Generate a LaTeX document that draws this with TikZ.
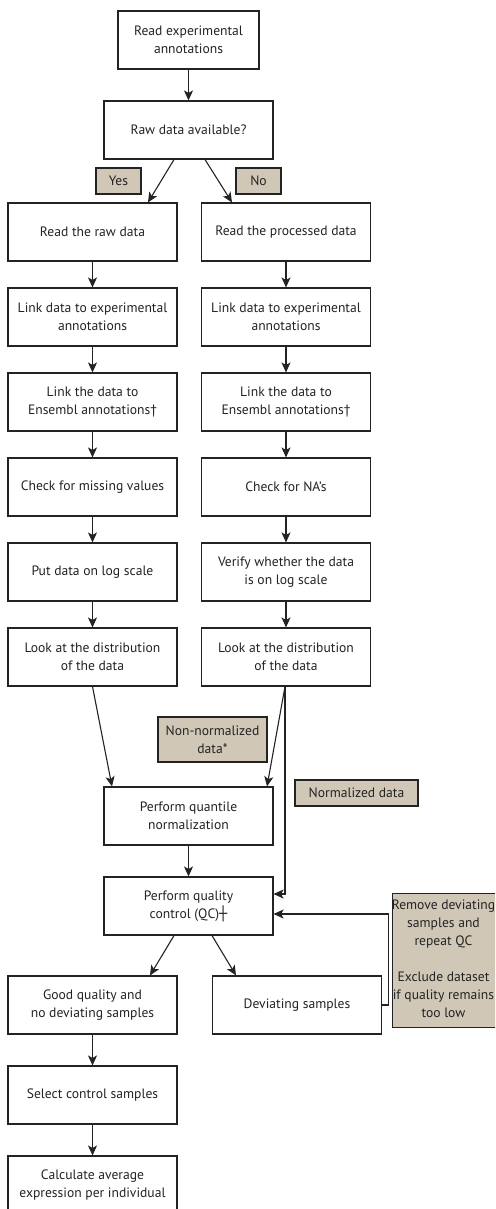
\documentclass[tikz,border=0pt]{standalone}
\usepackage{fontspec}
\setmainfont{PT Sans}
\newfontfamily\symfont{DejaVu Sans}
\usetikzlibrary{arrows.meta,calc}
\definecolor{tan}{RGB}{208,199,183}
\definecolor{ink}{RGB}{35,35,35}
\tikzset{
  every node/.style={font=\fontsize{13.6}{18}\selectfont, text=ink},
  stepbox/.style={draw=ink, line width=1.1pt, fill=white, minimum width=169pt, minimum height=58pt, align=center, inner sep=1pt},
  tagbox/.style={draw=ink, line width=1.1pt, fill=tan, align=center, inner sep=1pt},
  conn/.style={draw=ink, line width=1.1pt, -{Stealth[length=10pt,width=9pt,inset=2.5pt]}},
}
\begin{document}
\begin{tikzpicture}[x=1pt,y=-1pt]
\useasboundingbox (0,0) rectangle (495,1209);
\clip (0,0) rectangle (495,1209);
% center column
\node[stepbox, minimum width=141pt] (b1) at (188.5,40) {Read experimental\\annotations};
\node[stepbox] (b2) at (188.5,130) {Raw data available?};
% left column
\node[stepbox] (l1) at (92.5,232) {Read the raw data};
\node[stepbox] (l2) at (92.5,317) {Link data to experimental\\annotations};
\node[stepbox] (l3) at (92.5,402) {Link the data to\\Ensembl annotations†};
\node[stepbox] (l4) at (92.5,487) {Check for missing values};
\node[stepbox] (l5) at (92.5,572) {Put data on log scale};
\node[stepbox] (l6) at (92.5,657) {Look at the distribution\\of the data};
% right column
\node[stepbox] (r1) at (286,232) {Read the processed data};
\node[stepbox] (r2) at (286,317) {Link data to experimental\\annotations};
\node[stepbox] (r3) at (286,402) {Link the data to\\Ensembl annotations†};
\node[stepbox] (r4) at (286,487) {Check for NA’s};
\node[stepbox] (r5) at (286,572) {Verify whether the data\\is on log scale};
\node[stepbox] (r6) at (286,657) {Look at the distribution\\of the data};
% lower part
\node[stepbox] (qn) at (188.5,816) {Perform quantile\\normalization};
\node[stepbox] (qc) at (188.5,906) {Perform quality\\control (QC){\symfont ┼}};
\node[stepbox] (gd) at (92.5,1005) {Good quality and\\no deviating samples};
\node[stepbox] (dv) at (297,1005) {Deviating samples};
\node[stepbox] (sc) at (92.5,1095) {Select control samples};
\node[stepbox] (ca) at (92.5,1185) {Calculate average\\expression per individual};
% tags
\node[tagbox, minimum width=45pt, minimum height=26pt] (yes) at (118.5,181) {Yes};
\node[tagbox, minimum width=45pt, minimum height=26pt] (no) at (258.5,181) {No};
\node[tagbox, minimum width=109pt, minimum height=45pt] (nn) at (212.5,739.5) {Non-normalized\\data*};
\node[tagbox, minimum width=123pt, minimum height=26pt] (nd) at (356.5,793) {Normalized data};
\node[tagbox, anchor=north west, minimum width=108pt, minimum height=134pt] (rm) at (392,893) {};
\node[align=center, inner sep=0pt] (rmtext) at (443.5,959) {Remove deviating\\samples and\\repeat QC\\[18pt]Exclude dataset\\if quality remains\\too low};
% connectors
\draw[conn] (b1) -- (b2);
\draw[conn] ([xshift=-14.5pt]b2.south) -- ([xshift=55.5pt]l1.north);
\draw[conn] ([xshift=16.5pt]b2.south) -- ([xshift=-54pt]r1.north);
\foreach \a/\b in {l1/l2,l2/l3,l3/l4,l4/l5,l5/l6,r1/r2,r2/r3,r3/r4,r4/r5,r5/r6,qn/qc,gd/sc,sc/ca}
  \draw[conn] (\a) -- (\b);
\draw[conn] (l6.south) -- ([xshift=-76.5pt]qn.north);
\draw[conn] ([xshift=-1pt]r6.south) -- ([xshift=78.5pt]qn.north);
\draw[conn] ([xshift=-1pt]r6.south) |- ([yshift=12pt]qc.east);
\draw[conn] (dv.east) -- ++(6,0) |- ([yshift=-8pt]qc.east);
\draw[conn] ([xshift=-14.5pt]qc.south) -- ([xshift=57.5pt]gd.north);
\draw[conn] ([xshift=23.5pt]qc.south) -- ([xshift=-61pt]dv.north);
\end{tikzpicture}
\end{document}
